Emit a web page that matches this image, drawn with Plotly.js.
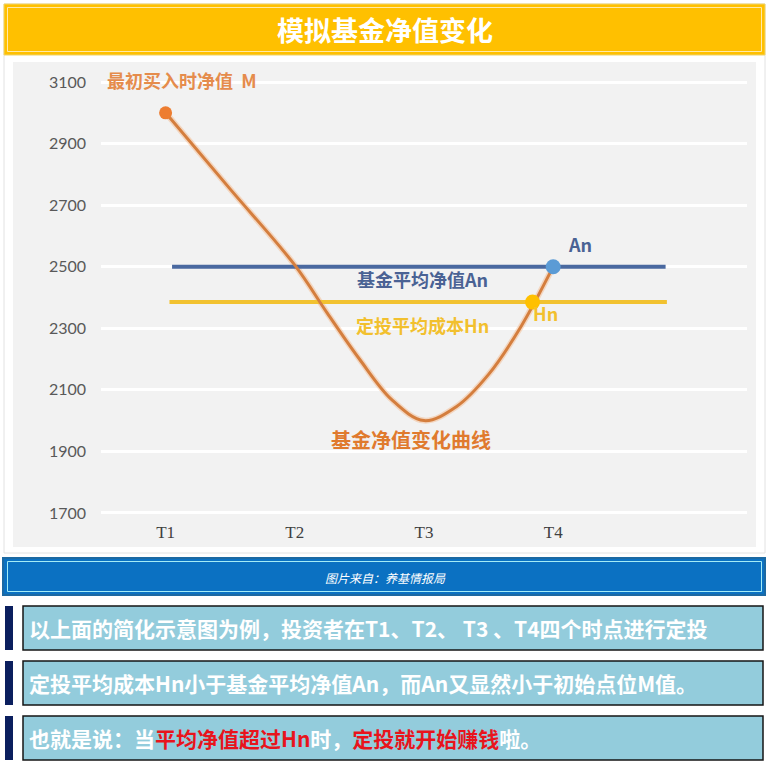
<!DOCTYPE html>
<html>
<head>
<meta charset="utf-8">
<script src="https://cdn.plot.ly/plotly-3.0.1.min.js"></script>
<style>
html,body{margin:0;padding:0;background:#ffffff;}
#chart{width:769px;height:765px;}
</style>
</head>
<body>
<div id="chart"></div>
<script>
// ---- data ----
const categories = ['T1', 'T2', 'T3', 'T4'];
const categoryPos = [0, 1, 2, 3];
const curveX = [0, 0.5, 1.0, 1.25, 1.5, 1.75, 2.0, 2.25, 2.5, 2.75, 3.0];
const curveY = [3000, 2752, 2505, 2350, 2200, 2068, 2000, 2045, 2150, 2305, 2500];
const startPoint = {x: [0], y: [3000]};        // M
const anPoint = {x: [3], y: [2500]};           // An
const hnPoint = {x: [2.84], y: [2385]};        // Hn
const avgNavLineX = [0.05, 3.87];
const avgNavLineY = [2500, 2500];
const avgCostLineX = [0.03, 3.88];
const avgCostLineY = [2385, 2385];
const yTickVals = [1700, 1900, 2100, 2300, 2500, 2700, 2900, 3100];

const titleText = '模拟基金净值变化';
const sourceText = '图片来自：养基情报局';
const rowTexts = [
  '以上面的简化示意图为例，投资者在T1、T2、 T3 、T4四个时点进行定投',
  '定投平均成本Hn小于基金平均净值An，而An又显然小于初始点位M值。',
  '也就是说：当<span style="color:#E8141C">平均净值超过Hn</span>时，<span style="color:#E8141C">定投就开始赚钱</span>啦。'
];

// ---- layout helpers (pixel -> paper) ----
const W = 769, H = 765;
const mL = 101, mR = 22, mT = 70, mB = 249;
const pw = W - mL - mR, ph = H - mT - mB;
const X = p => (p - mL) / pw;
const Y = p => (H - mB - p) / ph;

const CJK = '"Noto Sans CJK SC", "Noto Sans", sans-serif';

const traces = [
  {x: curveX, y: curveY, mode: 'lines', line: {shape: 'spline', smoothing: 1, color: 'rgba(245,180,130,0.45)', width: 6}, hoverinfo: 'skip'},
  {x: avgNavLineX, y: avgNavLineY, mode: 'lines', line: {color: '#4A69A0', width: 4}},
  {x: avgCostLineX, y: avgCostLineY, mode: 'lines', line: {color: '#F2C230', width: 4}},
  {x: curveX, y: curveY, mode: 'lines', line: {shape: 'spline', smoothing: 1, color: '#D47E3E', width: 3}},
  {x: startPoint.x, y: startPoint.y, mode: 'markers', marker: {color: '#ED7D31', size: 13}},
  {x: anPoint.x, y: anPoint.y, mode: 'markers', marker: {color: '#5B9BD5', size: 15}},
  {x: hnPoint.x, y: hnPoint.y, mode: 'markers', marker: {color: '#FFC000', size: 15}}
];

const shapes = [];
// outer frame
shapes.push({type: 'rect', xref: 'paper', yref: 'paper', layer: 'below', x0: X(4), x1: X(765), y0: Y(4), y1: Y(553), fillcolor: '#FFFFFF', line: {color: '#E2E2E2', width: 1}});
// title bar
shapes.push({type: 'rect', xref: 'paper', yref: 'paper', layer: 'below', x0: X(4), x1: X(765), y0: Y(4), y1: Y(55), fillcolor: '#FFC000', line: {color: '#EFD36A', width: 1}});
shapes.push({type: 'rect', xref: 'paper', yref: 'paper', layer: 'below', x0: X(7.5), x1: X(761.5), y0: Y(7.5), y1: Y(51.5), fillcolor: 'rgba(0,0,0,0)', line: {color: '#FFE9A8', width: 1}});
// chart panel
shapes.push({type: 'rect', xref: 'paper', yref: 'paper', layer: 'below', x0: X(13), x1: X(756), y0: Y(62), y1: Y(547), fillcolor: '#F2F2F2', line: {width: 0}});
// source band
shapes.push({type: 'rect', xref: 'paper', yref: 'paper', layer: 'below', x0: X(3), x1: X(765), y0: Y(558), y1: Y(595), fillcolor: '#0B71C2', line: {color: '#1C69A2', width: 2}});
shapes.push({type: 'rect', xref: 'paper', yref: 'paper', layer: 'below', x0: X(7.5), x1: X(761.5), y0: Y(561.5), y1: Y(591.5), fillcolor: 'rgba(0,0,0,0)', line: {color: '#A4ECF6', width: 1}});
// text rows
const rowTops = [606, 661, 716];
const rowBottoms = [650, 705, 760];
for (let i = 0; i < 3; i++) {
  shapes.push({type: 'rect', xref: 'paper', yref: 'paper', layer: 'below', x0: X(5), x1: X(13), y0: Y(rowTops[i]), y1: Y(rowBottoms[i]), fillcolor: '#0B1F5E', line: {width: 0}});
  shapes.push({type: 'rect', xref: 'paper', yref: 'paper', layer: 'below', x0: X(23), x1: X(763), y0: Y(rowTops[i]), y1: Y(rowBottoms[i]), fillcolor: '#93CCDC', line: {color: '#151515', width: 1.5}});
}

const annotations = [
  {xref: 'paper', yref: 'paper', x: X(385), y: Y(30), xanchor: 'center', yanchor: 'middle', text: '<b>' + titleText + '</b>', showarrow: false, font: {family: CJK, size: 27, color: '#FFFFFF'}},
  {xref: 'paper', yref: 'paper', x: X(385), y: Y(577), xanchor: 'center', yanchor: 'middle', text: '<i>' + sourceText + '</i>', showarrow: false, font: {family: CJK, size: 12, color: '#FFFFFF'}},
  // in-chart labels
  {xref: 'x', yref: 'y', x: -0.47, y: 3105, xanchor: 'left', yanchor: 'middle', text: '<b>最初买入时净值  M</b>', showarrow: false, font: {family: CJK, size: 18, color: '#E58C4C'}},
  {xref: 'x', yref: 'y', x: 1.99, y: 2460, xanchor: 'center', yanchor: 'middle', text: '<b>基金平均净值An</b>', showarrow: false, font: {family: CJK, size: 18, color: '#4A6294'}},
  {xref: 'x', yref: 'y', x: 1.99, y: 2311, xanchor: 'center', yanchor: 'middle', text: '<b>定投平均成本Hn</b>', showarrow: false, font: {family: CJK, size: 18, color: '#F2C02E'}},
  {xref: 'x', yref: 'y', x: 3.21, y: 2574, xanchor: 'center', yanchor: 'middle', text: '<b>An</b>', showarrow: false, font: {family: CJK, size: 18, color: '#4A6294'}},
  {xref: 'x', yref: 'y', x: 2.94, y: 2350, xanchor: 'center', yanchor: 'middle', text: '<b>Hn</b>', showarrow: false, font: {family: CJK, size: 18, color: '#F2C02E'}},
  {xref: 'x', yref: 'y', x: 1.90, y: 1940, xanchor: 'center', yanchor: 'middle', text: '<b>基金净值变化曲线</b>', showarrow: false, font: {family: CJK, size: 20, color: '#E07A2E'}}
];
const rowCenters = [628, 683, 738];
for (let i = 0; i < 3; i++) {
  annotations.push({xref: 'paper', yref: 'paper', x: X(27), y: Y(rowCenters[i]), xanchor: 'left', yanchor: 'middle', text: '<b>' + rowTexts[i] + '</b>', showarrow: false, font: {family: CJK, size: 21, color: '#FFFFFF'}});
}

const layout = {
  width: W, height: H,
  margin: {l: mL, r: mR, t: mT, b: mB, pad: 0},
  paper_bgcolor: '#FFFFFF',
  plot_bgcolor: 'rgba(0,0,0,0)',
  showlegend: false,
  font: {family: CJK},
  xaxis: {
    range: [-0.5, 4.5], tickvals: categoryPos, ticktext: categories,
    showgrid: false, zeroline: false, showline: false, ticks: '',
    tickfont: {family: '"Liberation Serif", "DejaVu Serif", serif', size: 17, color: '#404040'},
    ticklabelstandoff: 4, fixedrange: true
  },
  yaxis: {
    range: [1690, 3139], tickvals: yTickVals,
    showgrid: true, gridcolor: '#FFFFFF', gridwidth: 3, zeroline: false, showline: false, ticks: '',
    tickfont: {family: 'Lato, "Open Sans", sans-serif', size: 16, color: '#595959'},
    ticklabelstandoff: 14, fixedrange: true
  },
  shapes: shapes,
  annotations: annotations
};

Plotly.newPlot('chart', traces, layout, {displayModeBar: false, staticPlot: true});
</script>
</body>
</html>
